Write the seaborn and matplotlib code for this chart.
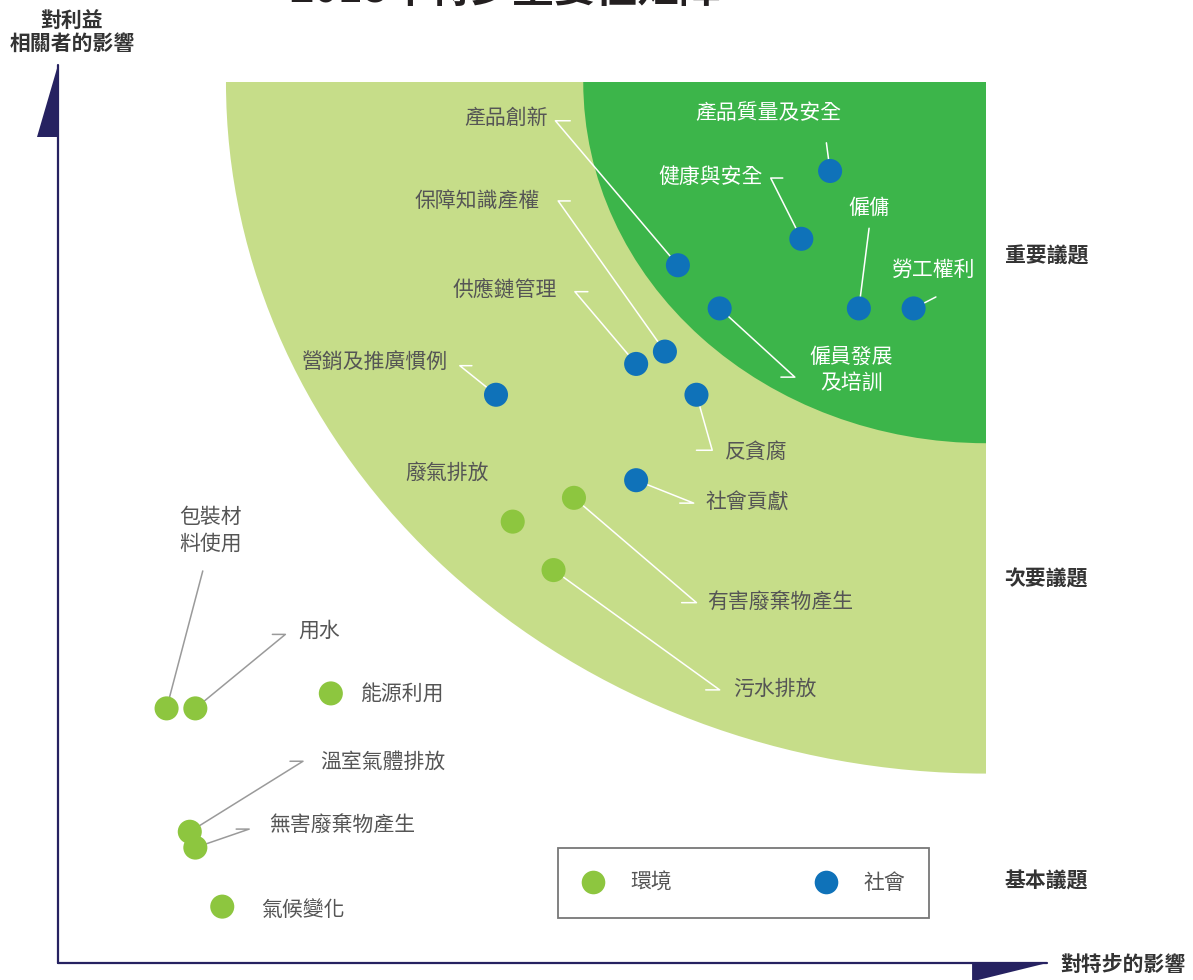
import numpy as np
import pandas as pd
import matplotlib
matplotlib.use("Agg")
import matplotlib.pyplot as plt
from matplotlib.patches import Ellipse
from matplotlib.lines import Line2D
import seaborn as sns

# data: materiality issues, x = impact on company, y = impact on stakeholders (0-10)
env_issues = ["廢氣排放", "有害廢棄物產生", "污水排放", "包裝材\n料使用", "用水",
              "能源利用", "溫室氣體排放", "無害廢棄物產生", "氣候變化"]
env_x = [4.90, 5.56, 5.34, 1.17, 1.48, 2.94, 1.42, 1.48, 1.77]
env_y = [5.01, 5.28, 4.46, 2.89, 2.89, 3.06, 1.49, 1.31, 0.64]

soc_issues = ["產品質量及安全", "健康與安全", "僱傭", "勞工權利", "產品創新",
              "僱員發展\n及培訓", "保障知識產權", "供應鏈管理", "營銷及推廣慣例",
              "反貪腐", "社會貢獻"]
soc_x = [8.32, 8.01, 8.63, 9.22, 6.68, 7.13, 6.54, 6.23, 4.72, 6.88, 6.23]
soc_y = [8.99, 8.22, 7.43, 7.43, 7.92, 7.43, 6.94, 6.80, 6.45, 6.45, 5.48]

groups = ["環境", "社會"]
tiers = ["重要議題", "次要議題", "基本議題"]

df = pd.DataFrame({
    "issue": env_issues + soc_issues,
    "x": env_x + soc_x,
    "y": env_y + soc_y,
    "group": [groups[0]] * len(env_issues) + [groups[1]] * len(soc_issues),
})

# label layout: text pos, alignment, leader elbow points, colour
layout = {
    "產品創新": (5.28, 9.59, "right", [(5.36, 9.56), (5.52, 9.56)], "w"),
    "產品質量及安全": (7.65, 9.65, "center", [(8.28, 9.31)], "w"),
    "健康與安全": (7.59, 8.92, "right", [(7.68, 8.91), (7.81, 8.91)], "w"),
    "僱傭": (8.74, 8.57, "center", [(8.74, 8.34)], "w"),
    "勞工權利": (9.43, 7.87, "center", [(9.46, 7.56)], "w"),
    "保障知識產權": (5.19, 8.65, "right", [(5.39, 8.65), (5.52, 8.65)], "w"),
    "僱員發展\n及培訓": (8.55, 6.73, "center", [(7.94, 6.65), (7.79, 6.65)], "w"),
    "供應鏈管理": (5.38, 7.64, "right", [(5.57, 7.62), (5.71, 7.62)], "w"),
    "營銷及推廣慣例": (4.19, 6.81, "right", [(4.33, 6.78), (4.46, 6.78)], "w"),
    "反貪腐": (7.19, 5.80, "left", [(7.05, 5.82), (6.88, 5.82)], "w"),
    "社會貢獻": (6.98, 5.22, "left", [(6.85, 5.22), (6.70, 5.22)], "w"),
    "廢氣排放": (4.19, 5.57, "center", [], "w"),
    "有害廢棄物產生": (7.00, 4.09, "left", [(6.88, 4.09), (6.72, 4.09)], "w"),
    "污水排放": (7.27, 3.11, "left", [(7.13, 3.10), (6.98, 3.10)], "w"),
    "包裝材\n料使用": (1.64, 4.91, "center", [(1.56, 4.45)], "g"),
    "用水": (2.59, 3.77, "left", [(2.45, 3.73), (2.31, 3.73)], "g"),
    "能源利用": (3.25, 3.06, "left", [], "g"),
    "溫室氣體排放": (2.82, 2.29, "left", [(2.64, 2.29), (2.50, 2.29)], "g"),
    "無害廢棄物產生": (2.28, 1.57, "left", [(2.06, 1.52), (1.92, 1.52)], "g"),
    "氣候變化": (2.19, 0.60, "left", [], "g"),
}
white_text = {"產品質量及安全", "健康與安全", "僱傭", "勞工權利", "僱員發展\n及培訓"}

sns.set_theme(style="white")
plt.rcParams["font.family"] = ["Noto Sans CJK TC", "DejaVu Sans"]

fig = plt.figure(figsize=(11.93, 9.8), dpi=100)
ax = fig.add_axes([58 / 1193, 17 / 980, 928 / 1193, 881 / 980])
ax.set_xlim(0, 10)
ax.set_ylim(0, 10)
ax.axis("off")

# zones
ax.add_patch(Ellipse((10, 10), 2 * 8.19, 2 * 7.85, color="#c6dd89", lw=0, zorder=0))
ax.add_patch(Ellipse((10, 10), 2 * 4.34, 2 * 4.10, color="#3cb54a", lw=0, zorder=1))

# leader lines
for _, r in df.iterrows():
    tx, ty, ha, pts, lc = layout[r["issue"]]
    if not pts:
        continue
    xs = [r["x"]] + [p[0] for p in pts]
    ys = [r["y"]] + [p[1] for p in pts]
    ax.plot(xs, ys, color="white" if lc == "w" else "#9a9a9a", lw=1.1, zorder=2)

palette = {"環境": "#8dc63f", "社會": "#0f72b9"}
sns.scatterplot(data=df, x="x", y="y", hue="group", palette=palette, s=300,
                edgecolor="none", legend=False, ax=ax, zorder=3)

for _, r in df.iterrows():
    tx, ty, ha, pts, lc = layout[r["issue"]]
    col = "white" if r["issue"] in white_text else "#555555"
    ax.text(tx, ty, r["issue"], ha=ha, va="center", fontsize=15, color=col,
            linespacing=1.25, multialignment="center", zorder=4)

# axes with half-arrow heads
ax.plot([0, 0], [0, 10.19], color="#262261", lw=1.6, clip_on=False, zorder=5)
ax.plot([0, 10.66], [0, 0], color="#262261", lw=1.6, clip_on=False, zorder=5)
ax.fill([0, 0, -0.226], [10.19, 9.38, 9.38], color="#262261", lw=0, clip_on=False)
ax.fill([9.85, 10.66, 9.85], [0, 0, -0.21], color="#262261", lw=0, clip_on=False)

ax.text(0.15, 10.57, "對利益\n相關者的影響", ha="center", va="center", fontsize=15,
        fontweight="bold", color="#333333", linespacing=1.15, clip_on=False)
ax.text(10.8, -0.02, "對特步的影響", ha="left", va="center", fontsize=15,
        fontweight="bold", color="#333333", clip_on=False)

for label, ty in zip(tiers, [8.02, 4.36, 0.93]):
    ax.text(10.2, ty, label, ha="left", va="center", fontsize=15,
            fontweight="bold", color="#333333", clip_on=False)

fig.text(505 / 1193, 1 - 2 / 980, "2018年特步重要性矩陣", ha="center", va="baseline",
         fontsize=30, fontweight="bold", color="#231f20")

handles = [Line2D([], [], ls="none", marker="o", markersize=17,
                  markerfacecolor=palette[g], markeredgecolor="none", label=g)
           for g in groups]
leg = ax.legend(handles=handles, ncol=2, loc="lower left",
                bbox_to_anchor=(0.539, 0.051), borderaxespad=0, fontsize=15,
                frameon=True, fancybox=False, borderpad=1.15, handlelength=1.0,
                handletextpad=1.3, columnspacing=6.9, labelcolor="#555555")
leg.get_frame().set_edgecolor("#555555")
leg.get_frame().set_linewidth(1.3)

fig.savefig("out.png", dpi=100)
